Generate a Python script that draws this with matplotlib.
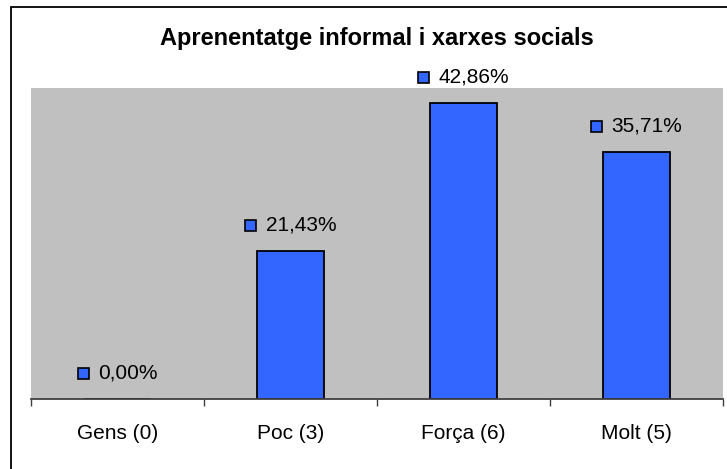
import matplotlib
matplotlib.use("Agg")
import matplotlib.pyplot as plt
from matplotlib.patches import Rectangle
from matplotlib.transforms import offset_copy

categories = ["Gens (0)", "Poc (3)", "Força (6)", "Molt (5)"]
values = [0.00, 21.43, 42.86, 35.71]
labels = ["0,00%", "21,43%", "42,86%", "35,71%"]
title = "Aprenentatge informal i xarxes socials"

plt.rcParams['font.family'] = ['Liberation Sans', 'DejaVu Sans']

W, H = 727, 469
fig = plt.figure(figsize=(W / 100, H / 100), dpi=100)
fig.patch.set_facecolor("white")

# outer chart border (left/top visible; right/bottom clipped)
fig.add_artist(Rectangle((11 / W, -0.1), 1.2, (H - 7) / H + 0.1, transform=fig.transFigure,
                         facecolor="none", edgecolor="black", linewidth=1.3))

ax = fig.add_axes([31 / W, (H - 399) / H, (723 - 31) / W, (399 - 88) / H])
ax.set_facecolor("#C0C0C0")
x = list(range(len(categories)))
ax.bar(x, values, width=0.39, color="#3366FF", edgecolor="black", linewidth=1.3, zorder=3)
ax.set_xlim(-0.5, len(categories) - 0.5)
ax.set_ylim(0, 45)
ax.set_yticks([])
for s in ["top", "right", "left"]:
    ax.spines[s].set_visible(False)
ax.spines["bottom"].set_color("#404040")
ax.spines["bottom"].set_linewidth(1.3)
ax.spines["bottom"].set_zorder(5)

ax.set_xticks([i - 0.5 for i in range(len(categories) + 1)])
ax.set_xticklabels([])
ax.tick_params(axis="x", which="major", length=5, color="#404040", width=1.0, direction="out")
ax.set_xticks(x, minor=True)
ax.set_xticklabels(categories, minor=True, fontsize=15)
ax.tick_params(axis="x", which="minor", length=0, pad=18)

fig.text(377 / W, 1 - 38 / H, title, ha="center", va="center", fontsize=17, fontweight="bold")

fig.canvas.draw()
renderer = fig.canvas.get_renderer()
sq = 11
gap = 10
for xi, v, lab in zip(x, values, labels):
    t = ax.annotate(lab, (xi, v), xytext=(0, 0), textcoords="offset pixels",
                    ha="left", va="center", fontsize=15)
    tw = t.get_window_extent(renderer).width
    total = sq + gap + tw
    t.xyann = (-total / 2 + sq + gap, 26)
    ax.plot([xi], [v], marker="s", markersize=sq * 0.72, markerfacecolor="#3366FF",
            markeredgecolor="black", markeredgewidth=1.2, clip_on=False, zorder=4,
            transform=offset_copy(ax.transData, fig=fig, x=-total / 2 + sq / 2, y=26, units="dots"))

fig.savefig("out.png", dpi=100)
